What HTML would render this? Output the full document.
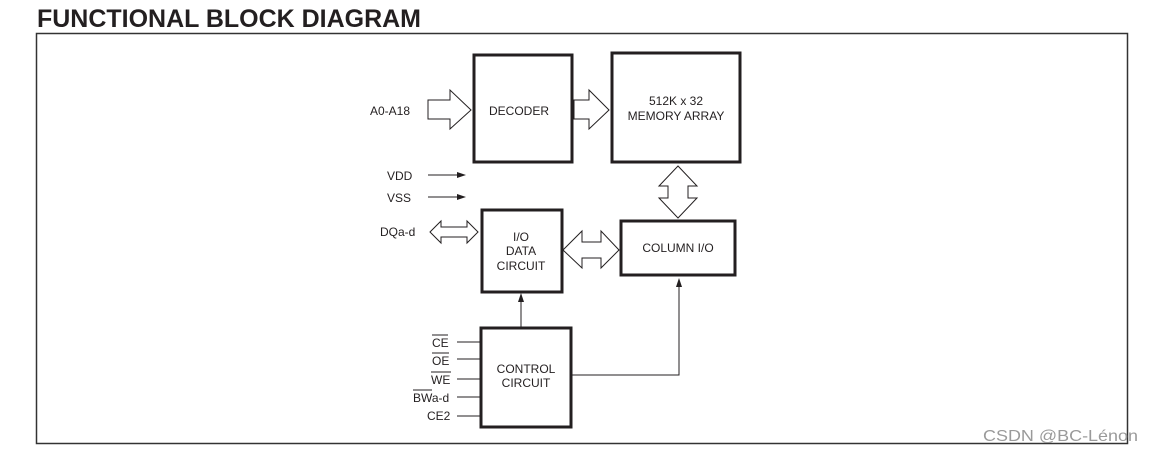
<!DOCTYPE html>
<html><head><meta charset="utf-8"><style>
html,body{margin:0;padding:0;background:#fff;}
svg{display:block;}
text{font-family:"Liberation Sans",Arial,sans-serif;fill:#231f20;}
</style></head><body>
<svg width="1153" height="452" viewBox="0 0 1153 452" xmlns="http://www.w3.org/2000/svg">
<text x="37" y="27" font-size="25" font-weight="bold" textLength="384" lengthAdjust="spacingAndGlyphs">FUNCTIONAL BLOCK DIAGRAM</text>
<rect x="36.5" y="33.5" width="1091" height="410" fill="none" stroke="#333" stroke-width="1.5"/>
<g fill="none" stroke="#231f20" stroke-width="3">
<rect x="474" y="55" width="98" height="107"/>
<rect x="612" y="53" width="128" height="109"/>
<rect x="482" y="210" width="80" height="82"/>
<rect x="621" y="221" width="114" height="54"/>
<rect x="481" y="328" width="90" height="99"/>
</g>
<g fill="#fff" stroke="#231f20" stroke-width="1">
<polygon points="428,100 450,100 450,90 471,110 450,129 450,119 428,119"/>
<polygon points="574,100 589,100 589,90 609,110 589,129 589,119 574,119"/>
<polygon points="678,166 697,186 688,186 688,198 697,198 678,218 659,198 668,198 668,186 659,186"/>
<polygon points="563,250 582,231 582,242 601,242 601,231 619,250 601,268 601,258 582,258 582,268"/>
<polygon points="430,232 441,221 441,227 467,227 467,221 478,232 467,243 467,237 441,237 441,243"/>
</g>
<g stroke="#231f20" stroke-width="1" fill="none">
<line x1="428" y1="175" x2="460" y2="175"/>
<line x1="428" y1="197" x2="460" y2="197"/>
<line x1="521" y1="327" x2="521" y2="300"/>
<polyline points="572,375 679,375 679,285"/>
<line x1="457" y1="342" x2="480" y2="342"/>
<line x1="457" y1="359" x2="480" y2="359"/>
<line x1="457" y1="379" x2="480" y2="379"/>
<line x1="457" y1="397" x2="480" y2="397"/>
<line x1="457" y1="416" x2="480" y2="416"/>
</g>
<g fill="#231f20">
<polygon points="466,175 457,172 457,178"/>
<polygon points="466,197 457,194 457,200"/>
<polygon points="521,293 518,302 524,302"/>
<polygon points="679,278 676,287 682,287"/>
</g>
<g font-size="12">
<text x="370" y="115">A0-A18</text>
<text x="489" y="115">DECODER</text>
<text x="676" y="105" text-anchor="middle">512K x 32</text>
<text x="676" y="120" text-anchor="middle">MEMORY ARRAY</text>
<text x="387" y="180">VDD</text>
<text x="387" y="202">VSS</text>
<text x="380" y="236">DQa-d</text>
<text x="521" y="241" text-anchor="middle">I/O</text>
<text x="521" y="255" text-anchor="middle">DATA</text>
<text x="521" y="270" text-anchor="middle">CIRCUIT</text>
<text x="678" y="252" text-anchor="middle">COLUMN I/O</text>
<text x="526" y="373" text-anchor="middle">CONTROL</text>
<text x="526" y="387" text-anchor="middle">CIRCUIT</text>
<text x="432" y="347">CE</text>
<text x="432" y="365">OE</text>
<text x="431" y="384">WE</text>
<text x="413" y="402">BWa-d</text>
<text x="427" y="420">CE2</text>
</g>
<text x="983" y="441" font-size="16" textLength="155" lengthAdjust="spacingAndGlyphs" style="fill:#9a9a9a">CSDN @BC-Lénon</text>
<g stroke="#231f20" stroke-width="1">
<line x1="432" y1="335" x2="448" y2="335"/>
<line x1="432" y1="353" x2="449" y2="353"/>
<line x1="431" y1="372" x2="451" y2="372"/>
<line x1="413" y1="390" x2="432" y2="390"/>
</g>
</svg>
</body></html>
